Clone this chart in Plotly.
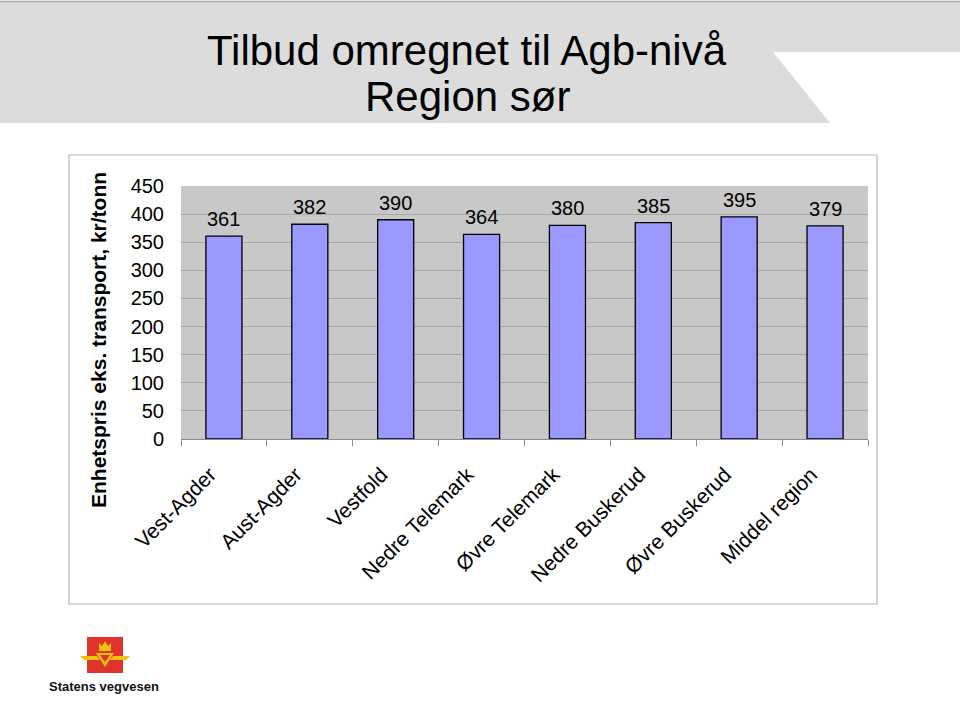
import plotly.graph_objects as go

categories = ["Vest-Agder", "Aust-Agder", "Vestfold", "Nedre Telemark",
              "Øvre Telemark", "Nedre Buskerud", "Øvre Buskerud", "Middel region"]
values = [361, 382, 390, 364, 380, 385, 395, 379]
y_ticks = [0, 50, 100, 150, 200, 250, 300, 350, 400, 450]

W, H = 960, 720
L, R, T, B = 181, 868, 186, 439

def px(x):
    return (x - L) / (R - L)

def py(y):
    return (B - y) / (B - T)

FONT = "Liberation Sans, Arial, sans-serif"

fig = go.Figure()
fig.add_trace(go.Bar(
    x=categories, y=values,
    marker=dict(color="#9999FF", line=dict(color="#000000", width=1.3)),
    width=0.42,
    hoverinfo="x+y",
))

annotations = []
for c, v in zip(categories, values):
    annotations.append(dict(x=c, y=v, xref="x", yref="y", text=str(v),
                            showarrow=False, yanchor="bottom", yshift=4,
                            font=dict(size=20, color="#000000", family=FONT)))

# Title
for txt, yy in [("Tilbud omregnet til Agb-nivå", 50), ("Region sør", 96)]:
    annotations.append(dict(x=px(467), y=py(yy), xref="paper", yref="paper",
                            text=txt, showarrow=False,
                            font=dict(size=42, family="Liberation Sans Narrow, " + FONT, color="#000"),
                            xanchor="center", yanchor="middle"))
# Y axis title
annotations.append(dict(x=px(98), y=py(340), xref="paper", yref="paper",
                        text="<b>Enhetspris eks. transport, kr/tonn</b>", showarrow=False,
                        textangle=-90, font=dict(size=21, family=FONT, color="#000"),
                        xanchor="center", yanchor="middle"))
# Logo text
annotations.append(dict(x=px(104), y=py(686), xref="paper", yref="paper",
                        text="<b>Statens vegvesen</b>", showarrow=False,
                        font=dict(size=13, family=FONT, color="#111"),
                        xanchor="center", yanchor="middle"))

def path_from(points):
    return "M " + " L ".join(f"{px(a)},{py(b)}" for a, b in points) + " Z"

shapes = [
    # header band
    dict(type="path", xref="paper", yref="paper",
         path=path_from([(0, 2), (960, 2), (960, 52), (773, 52), (830, 123), (0, 123)]),
         fillcolor="#dcdcdc", line=dict(width=0), layer="below"),
    dict(type="line", xref="paper", yref="paper", x0=px(0), x1=px(960), y0=py(1.5), y1=py(1.5),
         line=dict(color="#a8a8a8", width=1.5)),
    # chart box
    dict(type="rect", xref="paper", yref="paper", x0=px(69), x1=px(877), y0=py(604), y1=py(155),
         line=dict(color="#b4b4b4", width=1.2), fillcolor="rgba(0,0,0,0)", layer="below"),
    # logo red square
    dict(type="rect", xref="paper", yref="paper", x0=px(87), x1=px(123), y0=py(673), y1=py(637),
         fillcolor="#e0332b", line=dict(width=0)),
    # logo yellow wings and triangle
    dict(type="path", xref="paper", yref="paper",
         path=path_from([(80, 656), (97, 656), (100, 660), (84, 660)]),
         fillcolor="#f2c20f", line=dict(width=0)),
    dict(type="path", xref="paper", yref="paper",
         path=path_from([(130, 656), (113, 656), (110, 660), (126, 660)]),
         fillcolor="#f2c20f", line=dict(width=0)),
    dict(type="path", xref="paper", yref="paper",
         path=path_from([(96, 653), (114, 653), (105, 667)]),
         fillcolor="#f2c20f", line=dict(width=0)),
    dict(type="path", xref="paper", yref="paper",
         path=path_from([(100, 655), (110, 655), (105, 662)]),
         fillcolor="#e0332b", line=dict(width=0)),
    dict(type="path", xref="paper", yref="paper",
         path=path_from([(99, 651), (99, 643), (102, 646), (105, 641), (108, 646), (111, 643), (111, 651)]),
         fillcolor="#f2c20f", line=dict(width=0)),
]

fig.update_layout(
    width=W, height=H,
    margin=dict(l=L, r=W - R, t=T, b=H - B, pad=0),
    paper_bgcolor="#ffffff",
    plot_bgcolor="#c8c8c8",
    showlegend=False,
    annotations=annotations,
    shapes=shapes,
    font=dict(family=FONT, color="#000"),
    xaxis=dict(
        type="category", tickangle=-45,
        tickfont=dict(size=21, family=FONT, color="#000"),
        showgrid=False, showline=True, linecolor="#8c8c8c", linewidth=1,
        ticks="outside", tickson="boundaries", ticklen=6, tickcolor="#8c8c8c",
        ticklabelstandoff=14, ticklabelshift=-14,
        automargin=False,
    ),
    yaxis=dict(
        range=[0, 450], tickvals=y_ticks, ticktext=[str(t) for t in y_ticks],
        tickfont=dict(size=20, family=FONT, color="#000"),
        showgrid=True, gridcolor="#a8a8a8", gridwidth=1,
        showline=False, zeroline=False, ticks="", ticklabelstandoff=16,
        automargin=False,
    ),
)

fig.write_html("out.html", config={"displayModeBar": False},
               post_script="document.body.style.margin='0px';")
